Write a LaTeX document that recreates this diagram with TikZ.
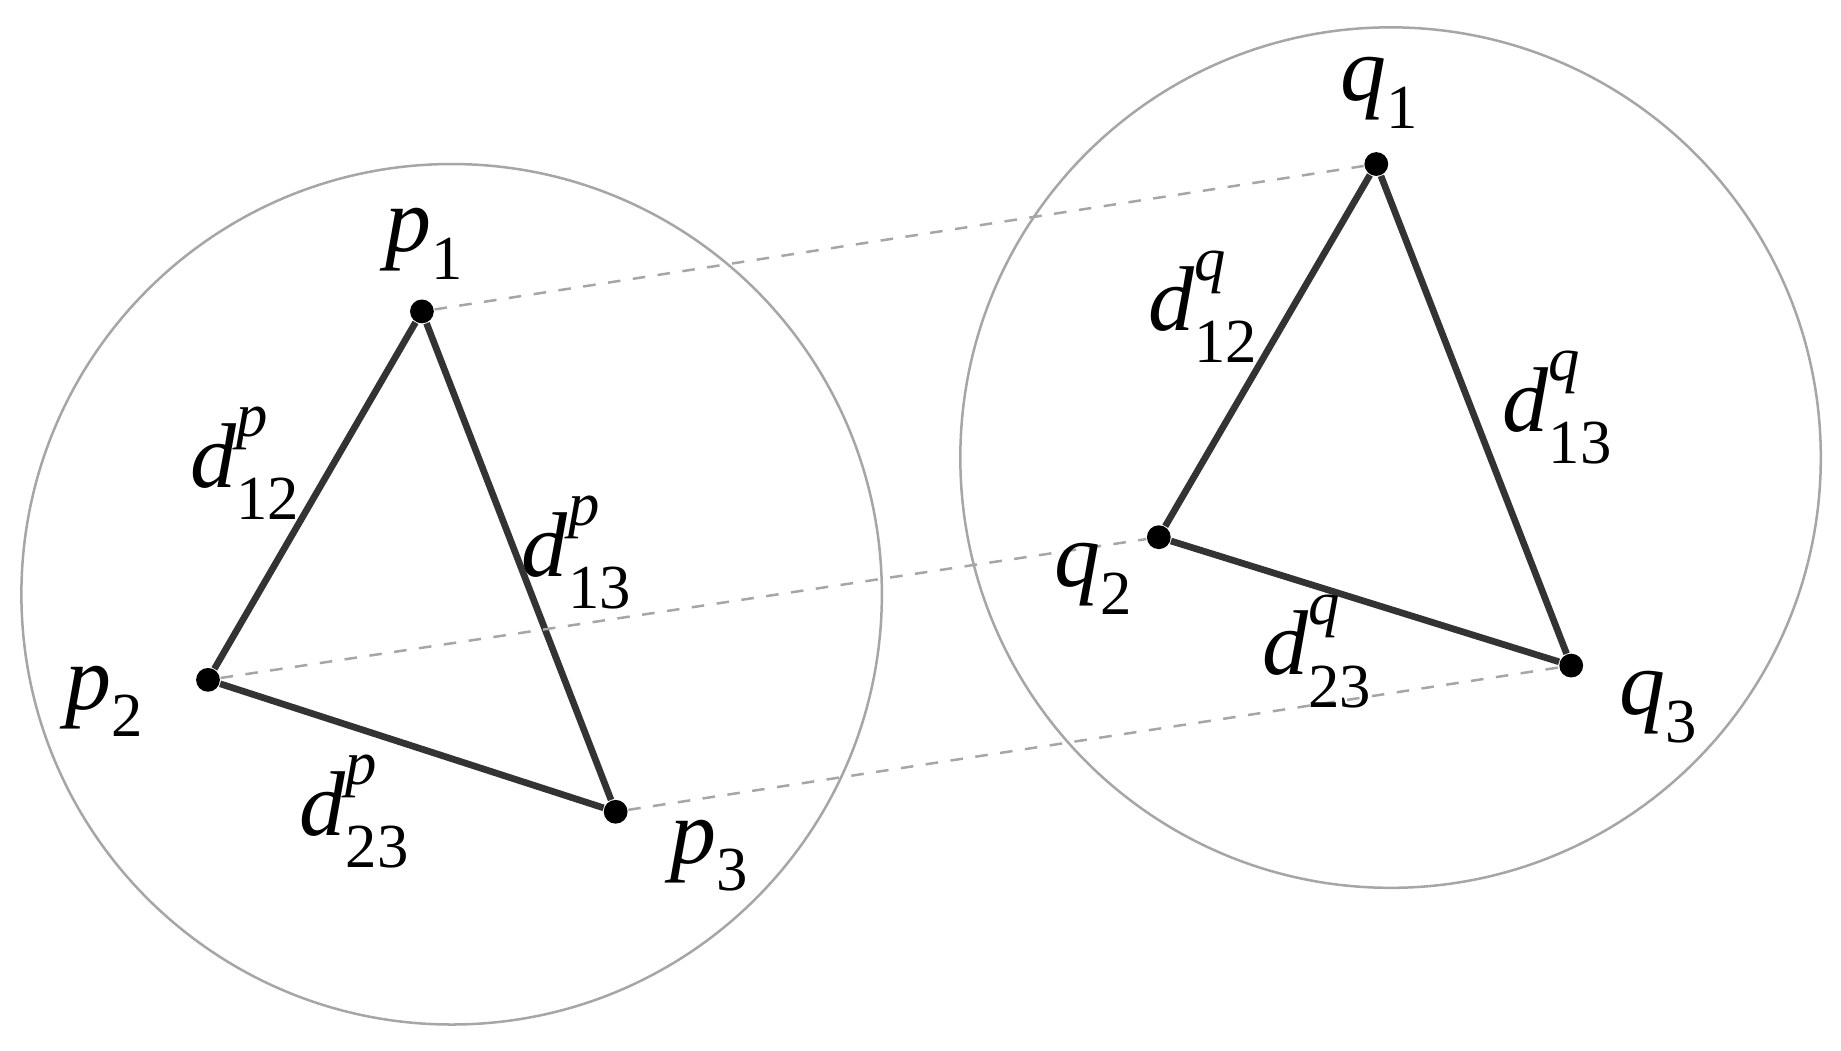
\documentclass[tikz,border=0pt]{standalone}
\usepackage{fontspec}
\setmainfont{Liberation Serif}
\newcommand{\dl}[2]{\textit{d}\makebox[0pt][l]{\raisebox{0.55em}{\fontsize{15}{16}\selectfont\textit{#1}}}\raisebox{-0.35em}{\fontsize{15}{16}\selectfont #2}}
\newcommand{\pl}[2]{\textit{#1}\raisebox{-0.3em}{\fontsize{15}{16}\selectfont #2}}
\begin{document}
\begin{tikzpicture}[x=0.01cm,y=-0.01cm,
  circ/.style={draw=gray!70,line width=0.6pt},
  edge/.style={draw=black!80,line width=1.6pt},
  corr/.style={draw=gray!70,dashed,line width=0.6pt},
  pt/.style={circle,fill=black,inner sep=0pt,minimum size=0.2cm},
  lab/.style={font=\fontsize{22}{26}\selectfont,inner sep=0pt}]
\useasboundingbox (0,0) rectangle (1549,884);
\draw[circ] (380,500) circle (362);
\draw[circ] (1170,385) circle (362);
\node[pt] (p1) at (355,262) {};
\node[pt] (p2) at (175,572) {};
\node[pt] (p3) at (518,683) {};
\node[pt] (q1) at (1158,138) {};
\node[pt] (q2) at (975,452) {};
\node[pt] (q3) at (1322,560) {};
\draw[edge] (p1)--(p2)--(p3)--(p1);
\draw[edge] (q1)--(q2)--(q3)--(q1);
\draw[corr] (p1)--(q1);
\draw[corr] (p2)--(q2);
\draw[corr] (p3)--(q3);
\node[lab] (lp1) at (357,205) {\pl{p}{1}};
\node[lab] (lp2) at (88,590) {\pl{p}{2}};
\node[lab] (lp3) at (597,720) {\pl{p}{3}};
\node[lab] (lq1) at (1160,78) {\pl{q}{1}};
\node[lab] (lq2) at (920,487) {\pl{q}{2}};
\node[lab] (lq3) at (1395,595) {\pl{q}{3}};
\node[lab] (a) at (206,390) {\dl{p}{12}};
\node[lab] (b) at (485,465) {\dl{p}{13}};
\node[lab] (c) at (298,683) {\dl{p}{23}};
\node[lab] (d) at (1012,258) {\dl{q}{12}};
\node[lab] (e) at (1310,343) {\dl{q}{13}};
\node[lab] (f) at (1108,548) {\dl{q}{23}};
\end{tikzpicture}
\end{document}
